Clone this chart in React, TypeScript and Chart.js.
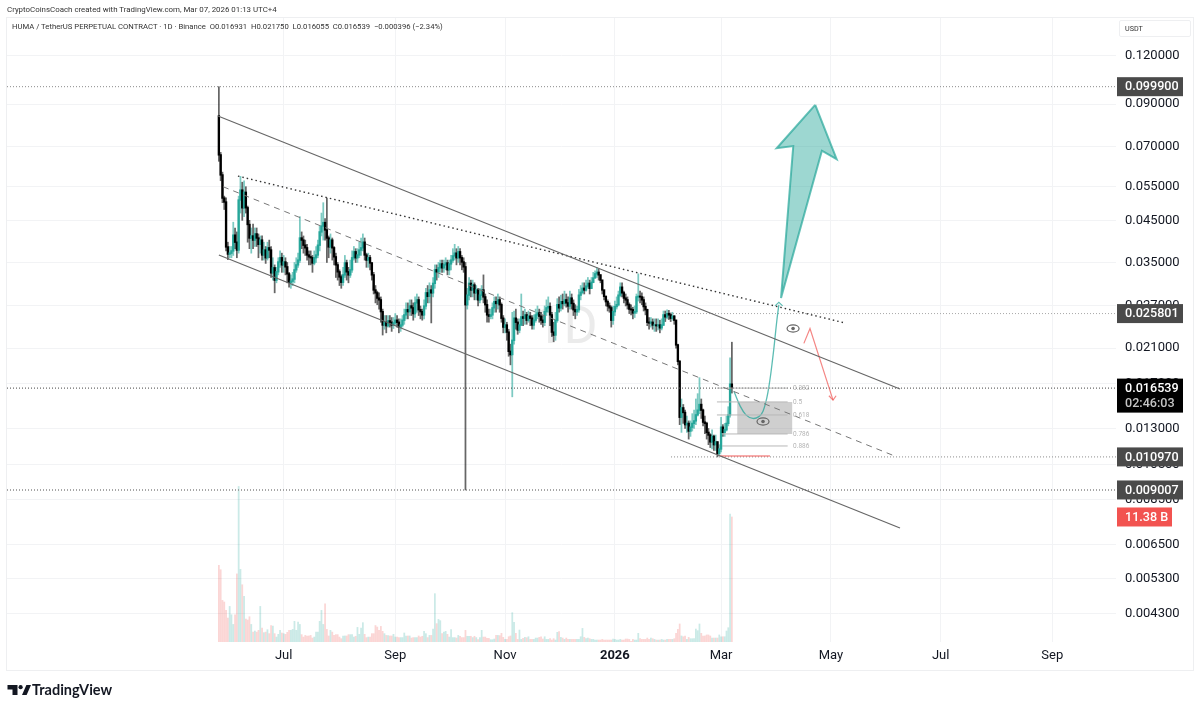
import { useEffect, useRef } from 'react';
import { Chart, registerables } from 'chart.js';

Chart.register(...registerables);

// prices are in thousandths of USDT, volumes in billions, x is the daily candle index (0 = May 26 2025)
const closes = [
  66.5,59,51.4,50.2,38.4,36.8,37,37.5,41.2,39.5,
  37.7,50.8,53.9,48.5,53.2,48.5,43.9,40.5,41,40,
  41.5,40.5,39,40,36.6,37.7,36,38.2,37.7,32.9,
  33.9,31.5,33.1,35.1,36,34.5,35.1,34.1,32.7,31.1,
  31.3,31.7,33.5,34.5,35.5,40.5,40,38.8,38.2,36.6,
  36.2,36,34.9,36,36.6,38.8,42,43.5,44.4,42.5,
  40.5,38.4,40,38.2,36.2,34.5,33.1,32.1,31.1,32.5,
  34.9,33.1,32.5,33.5,36,37.3,36,36.6,37.7,38.2,
  39.5,36.6,35.5,36,34.9,32.5,29.7,29.2,28.3,28,
  26.1,24.1,24.5,24,24.7,24.5,24.1,24.4,24.8,24.5,
  23.8,24.1,24.8,25.6,26.4,26.1,27,26.7,25.8,27.5,
  28,26.4,26.1,25.6,27,29.2,28.6,29.7,29.2,30.9,
  33.5,33.1,33.9,34.7,33.9,34.5,34.9,33.5,34.7,35.5,
  36.4,37,36,37.3,36,35.1,34.1,27.2,28.8,30.9,
  29.7,30.6,29.2,29.7,28,28.8,29.7,28.5,27.2,25.6,
  25.4,25.6,26.7,27.7,27.4,28,27.2,25.1,23.8,24.1,
  23.1,20.6,20.2,22,25.1,24.5,23.4,24.1,25.3,25.1,
  25.6,24.8,25.4,25.1,24.1,24.8,25.6,25.9,25.4,24.8,
  24.5,26.1,26.7,26.9,25.6,23.1,22.7,24.8,27.2,26.7,
  27.7,27.4,28,27.5,27,28.3,27.4,26.4,26.1,26.4,
  28.8,29.3,30,29.7,30.4,30.9,30,31.1,31.9,32.7,
  33,32.5,31.5,29.7,28.6,27.7,27,26.7,24.8,26.1,
  26.9,27.2,28.8,30.2,29.2,28.3,28,27.2,26.5,26.4,
  25.9,26.1,28.5,28.6,28.5,28,26.9,26.4,24.5,24.4,
  24.5,24.1,24.1,24,24.1,23.7,24.1,25.6,25.3,25.8,
  25.6,25.1,25.4,24.8,21.4,19.4,13.9,14.7,14.3,13.3,
  13.4,12.8,13.1,13.4,13.6,14.1,14.5,15,14.5,13.5,
  13.4,12.7,12.5,12,12.4,11.8,12,11.2,11.5,13.1,
  12.7,12.9,13.4,14.1,16.931,16.539,
];
const highs = [
  99.9,67.5,60,52,51.5,39.5,38.5,38.5,44.5,43,
  42,52,58.5,56.5,57,55,49,45,43,44,
  43,43,41.5,41,41,39.5,38.5,39.5,40,38.5,
  36,34.5,34,36,37.5,37,36.5,36,35,33,
  32.5,33,35,36,37,46,42,41,40,39,
  37.5,37.5,36.5,37.5,38.5,40,43.5,47,50,45.5,
  51.4,41,41.5,40.5,38.5,37,35,33.5,32.5,34,
  36.5,35.5,34,35.5,37.5,38.5,38,38,39.5,40.5,
  41.5,40.5,37,37,36.5,35,33,30.5,29.5,29.2,
  28.5,26.5,25.5,25.5,25.5,25.5,25.2,25.2,25.8,25.5,
  25,25,25.5,26.5,27.5,27.5,28,28,27.5,28.5,
  29,28.5,27,26.5,28,30,30.5,31,30.5,32,
  34.5,34.5,35,35.5,35.5,35.5,36,35.5,35.5,36.5,
  38,39,38,38.5,38,36.5,36,35,30,32,
  31.5,31.5,31,30.5,30,30,30.5,32.5,29,28,
  26.5,26.5,27.5,28.5,28.5,29,28.5,27.5,25.5,25,
  24.5,23.5,21.5,26,26.2,26.5,25,25,29,26.2,
  26.5,26,26.2,26,25.5,25.6,26.5,27,26.5,26,
  25.5,27,28,28.5,27.5,26,24.5,26,28.2,28.5,
  28.8,29,29.5,29,28.5,29.5,29,28,27.2,27,
  29.8,30.5,31,31,31.5,32,31.5,32,33,33.3,
  33.9,33.6,32.5,31,29.5,28.5,28,27.5,27,27,
  27.8,28.5,29.5,31,31,29.5,29,28.5,27.5,27.2,
  26.8,27,29,32.7,29.5,29.2,28.5,27.5,26.5,25.2,
  25.2,25,25,25,25,24.8,25,26.2,26.2,26.4,
  26.3,25.9,26,25.5,24.8,21.5,19.5,15.5,15,14.5,
  14,13.6,13.6,14.2,14.5,15.5,16,17.6,15.5,14.6,
  14,13.5,13,12.6,12.9,12.5,12.5,12,11.8,13.9,
  13.3,13.4,14,14.8,19.8,21.75,
];
const lows = [
  64,57,50,48,37.5,35.6,36,36,36.5,38,
  36,37,47,45,46,47,39.5,38,37,38,
  38.5,38.5,36,37,35.5,35.5,34.8,35.5,36,32,
  31.5,29.2,31,32.5,34,33,33,32.5,31,30.2,
  30,30.5,31,33,34,35,38,37,36.5,35.5,
  34.5,34.5,33,34.5,35,36,37.5,41,40,40,
  35,36,37,35.5,34.5,32,31.5,30.5,30,30.5,
  32,31.5,31,32,33,35.5,35,35,36,36.5,
  37.5,35.5,34,34,33.5,31.5,29,27.5,27.2,26.5,
  24.5,22.7,23.5,23,23.8,23.8,23.2,23.6,24,23.8,
  23,23.2,23.8,24.2,25,25,25.5,25.5,24.8,25.2,
  26,25.5,25,24.8,25,26.5,27.5,27.5,24.4,28.5,
  30,31.5,32,33,33,33,33.5,32.5,32.5,33.5,
  35,35.5,34.5,35,34.5,33.5,33,9.007,26.5,28,
  28.5,28.5,28,28,27,27.5,28,27.5,26,24.5,
  24.5,25,25,26,26,26.5,26,24.5,23,23,
  22,20,19,15.7,21.5,23.5,22.8,23,24,24,
  24.2,24.2,24.5,24,23.5,23.5,24.5,25,24.5,24.2,
  23.8,24,25.5,26,24,22.5,21.8,22,24.5,26,
  26.2,26.5,27,26.8,26,26.5,26.5,25.5,25,25.5,
  26,28,29,29,29.5,30,29,30,31,32,
  32,31.5,31,29,28,27,26.2,26,23.8,24.2,
  25.5,26.5,27,28.5,28.5,27.5,27,26.5,25.8,25.6,
  25,25.2,25.8,27.8,27.5,27.2,26.2,25.6,24,23.5,
  23.8,23.5,23.2,23.2,23.4,23,23.4,24,24.6,25,
  24.9,24.6,24.8,24.2,21,19,13.3,12.7,13.4,13,
  12.7,12.2,12.4,12.8,13,13.3,14,14.2,13.8,13.2,
  12.6,12.2,11.8,11.6,11.5,11.4,11.4,10.97,11.1,11.3,
  12.4,12.4,12.8,13.2,13.9,16.055,
];
const volumes = [
  6.98,6.58,3.79,3.64,2.88,2.18,3.24,2.48,1.6,2.48,
  6.2,14.16,6.61,5.21,4.15,2.09,2,2.3,1.6,0.9,
  1,0.9,1.06,3.24,1.27,0.85,0.9,1.12,0.76,1.5,
  1.45,0.76,0.45,0.7,1.06,0.82,0.76,0.7,0.88,1.06,
  1.06,1.15,1.88,1.06,1.82,1.6,0.67,0.45,0.6,0.55,
  0.55,0.6,0.36,0.45,0.9,0.9,1.88,2.88,1.6,3.48,
  1.15,0.55,1.06,0.9,0.6,0.67,0.67,0.45,0.3,0.55,
  0.55,0.55,0.67,0.67,0.67,0.45,0.52,1.33,0.7,1.27,
  1.76,0.7,0.4,0.45,0.45,0.76,0.76,1.5,1.36,1.06,
  1.42,0.97,0.76,0.6,0.58,0.55,0.55,0.7,0.45,0.45,
  0.4,0.4,0.4,0.82,0.55,0.55,0.55,0.36,0.4,0.4,
  0.4,0.55,0.45,0.52,0.97,0.76,0.4,0.6,0.6,1.18,
  4.4,1.67,2.06,1.94,0.76,0.9,0.97,0.7,0.45,1.12,
  0.4,0.4,0.36,0.6,0.52,0.4,0.4,1.06,0.52,0.52,
  0.52,0.4,0.52,0.4,0.21,0.4,1.06,0.45,0.45,0.33,
  0.33,0.21,0.21,0.27,0.6,0.6,0.58,0.79,0.42,0.24,
  0.24,0.48,0.55,2.67,1.79,0.79,0.24,1.09,0.24,0.33,
  0.42,0.39,0.48,0.24,0.24,0.24,0.36,0.36,0.42,0.48,
  0.27,0.48,0.24,0.24,0.3,0.18,0.3,0.18,0.88,0.94,
  0.42,0.36,0.24,0.36,0.24,0.24,0.24,0.24,0.24,0.24,
  0.24,0.48,1.24,0.42,0.3,0.36,0.3,0.24,0.24,0.18,
  0.18,0.18,0.18,0.24,0.18,0.18,0.18,0.18,0.18,0.27,
  0.24,0.18,0.18,0.24,0.18,0.18,0.27,0.27,0.24,0.06,
  0.24,0.18,0.18,0.79,0.3,0.24,0.24,0.24,0.36,0.24,
  0.36,0.3,0.24,0.18,0.18,0.18,0.24,0.18,0.18,0.24,
  0.24,0.24,0.24,0.3,0.79,1.15,1.64,0.55,0.48,0.55,
  0.24,0.42,0.3,0.3,0.3,1.18,1.03,1.64,0.79,0.55,
  0.55,0.64,0.64,0.55,0.36,0.36,0.36,0.36,0.64,0.48,
  0.48,0.48,1,1.3,11.65,11.38,
];
const firstOpen = 83.9;

const priceTicks = [120, 90, 70, 55, 45, 35, 27, 21, 17, 13, 10.5, 8.5, 6.5, 5.3, 4.3];
const timeTicks = [36, 98, 159, 220, 279, 340, 401, 463];
const timeLabels = ['Jul', 'Sep', 'Nov', '2026', 'Mar', 'May', 'Jul', 'Sep'];

// drawings: x in candle index, y in price
const upperChannelX = [-0.5, 378.4];
const upperChannelY = [83.9, 16.45];
const lowerChannelX = [0, 378.4];
const lowerChannelY = [36.6, 7.18];
const midChannelX = [2.3, 376.7];
const midChannelY = [55, 10.97];
const trendX = [10.6, 347.8];
const trendY = [58.6, 24.4];

const fibLevels = [16.539, 15.23, 14.09, 12.58, 11.71];
const fibNames = ['0.382', '0.5', '0.618', '0.786', '0.886'];
const fibStart = [276.7, 276.7, 276.7, 279.5, 279.5];
const fibEnd = 316;
const fibLabelX = 319;

const zoneX = [288, 318.5, 318.5, 288, 288];
const zoneY = [15.23, 15.23, 12.58, 12.58, 15.23];
const bigArrowX = [331.3, 343.2, 335, 312.3, 319.1, 309.9, 331.3];
const bigArrowY = [89.6, 64.8, 68.2, 28.3, 70.1, 69.2, 89.6];
const curveX = [286.2, 289.5, 292.8, 296.7, 300, 302.3, 305, 307.8, 310, 311.1];
const curveY = [16.2, 14.9, 14.1, 13.8, 13.95, 14.4, 16.1, 19.95, 24.8, 27.2];
const curveHeadX = [309, 311.1, 313.2];
const curveHeadY = [27, 27.6, 27];
const redArrowX = [325, 328.4, 341.2];
const redArrowY = [21.6, 23.6, 15.4];
const redHeadX = [338.9, 341.2, 342.9];
const redHeadY = [15.8, 15.4, 15.8];
const redBaseX = [278.4, 306.2];
const redBaseY = [11.03, 11.03];
const eyeX = [319, 302.3];
const eyeY = [23.6, 13.55];

const X_MIN = -117.7;
const X_MAX = 498.4;
const lines = [
  { from: X_MIN, price: 99.9, color: '#8a8a8a', width: 1 },
  { from: 252.3, price: 25.801, color: '#a8a8a8', width: 1 },
  { from: X_MIN, price: 16.539, color: '#444444', width: 1 },
  { from: 251.2, price: 10.97, color: '#8a8a8a', width: 1 },
  { from: X_MIN, price: 9.007, color: '#8a8a8a', width: 1.4 },
];

const tags = [
  { price: 99.9, text: '0.099900', bg: '#4a4a4a' },
  { price: 25.801, text: '0.025801', bg: '#4a4a4a' },
  { price: 10.97, text: '0.010970', bg: '#4a4a4a' },
  { price: 9.007, text: '0.009007', bg: '#4a4a4a' },
];

const UP = '#26a69a';
const DOWN = '#000000';
const FONT = 'Roboto, sans-serif';

const opens = closes.map((_, i) => (i === 0 ? firstOpen : closes[i - 1]));
const isUp = (i: number) => closes[i] >= opens[i];

const pts = (xs: number[], ys: number[]) => xs.map((x, k) => ({ x, y: ys[k] }));
const drawing = (xs: number[], ys: number[], extra: any) => ({
  type: 'line',
  data: pts(xs, ys),
  pointRadius: 0,
  fill: false,
  order: 1,
  ...extra,
});

const chartOverlay = {
  id: 'overlay',
  beforeDatasetsDraw(chart: any) {
    const { ctx } = chart;
    ctx.save();
    ctx.fillStyle = '#ebebeb';
    ctx.font = `52px ${FONT}`;
    ctx.textAlign = 'center';
    ctx.textBaseline = 'middle';
    ctx.fillText('1D', 566, 330);
    ctx.restore();
  },
  afterDraw(chart: any) {
    const { ctx, scales } = chart;
    const xs = scales.x;
    const ys = scales.y;
    ctx.save();

    // pane frame
    ctx.strokeStyle = '#eeeff1';
    ctx.lineWidth = 1;
    ctx.strokeRect(6.5, 17.5, 1187, 653);

    // fib level names
    ctx.font = `6.5px ${FONT}`;
    ctx.fillStyle = '#b4b4b4';
    ctx.textAlign = 'left';
    ctx.textBaseline = 'middle';
    fibNames.forEach((name, k) => {
      ctx.fillText(name, xs.getPixelForValue(fibLabelX), ys.getPixelForValue(fibLevels[k]));
    });

    // eye icons
    eyeX.forEach((x, k) => {
      const px = xs.getPixelForValue(x);
      const py = ys.getPixelForValue(eyeY[k]);
      ctx.beginPath();
      ctx.ellipse(px, py, 6, 3.6, 0, 0, Math.PI * 2);
      ctx.strokeStyle = '#666666';
      ctx.lineWidth = 1.2;
      ctx.stroke();
      ctx.beginPath();
      ctx.arc(px, py, 1.8, 0, Math.PI * 2);
      ctx.fillStyle = '#666666';
      ctx.fill();
    });

    // price tags over the axis
    ctx.textAlign = 'left';
    ctx.textBaseline = 'middle';
    ctx.font = `500 12.6px ${FONT}`;
    tags.forEach((t) => {
      const py = ys.getPixelForValue(t.price);
      ctx.fillStyle = t.bg;
      ctx.fillRect(1117, py - 9.5, 66, 19);
      ctx.fillStyle = '#ffffff';
      ctx.fillText(t.text, 1125, py + 0.5);
    });

    const lastY = ys.getPixelForValue(16.539);
    ctx.fillStyle = '#000000';
    ctx.fillRect(1117, lastY - 9.5, 66, 34);
    ctx.fillStyle = '#ffffff';
    ctx.fillText('0.016539', 1125, lastY + 0.5);
    ctx.fillStyle = '#c4c4c4';
    ctx.fillText('02:46:03', 1125, lastY + 15.5);

    const volY = scales.yVol.getPixelForValue(11.38);
    ctx.fillStyle = '#f25350';
    ctx.fillRect(1117, volY - 9.5, 55, 19);
    ctx.fillStyle = '#ffffff';
    ctx.fillText('11.38 B', 1125, volY + 0.5);

    ctx.restore();
  },
};

export default function App() {
  const chartRef = useRef<HTMLCanvasElement>(null);

  useEffect(() => {
    if (!chartRef.current) return;

    const datasets: any[] = [
      ...lines.map((l) =>
        drawing([l.from, X_MAX], [l.price, l.price], {
          borderColor: l.color,
          borderWidth: l.width,
          borderDash: [1, 2],
          order: 2,
        })
      ),
      drawing(upperChannelX, upperChannelY, { borderColor: '#666666', borderWidth: 1.2 }),
      drawing(lowerChannelX, lowerChannelY, { borderColor: '#666666', borderWidth: 1.2 }),
      drawing(midChannelX, midChannelY, { borderColor: '#777777', borderWidth: 1, borderDash: [6, 5] }),
      drawing(trendX, trendY, { borderColor: '#333333', borderWidth: 1.4, borderDash: [1.5, 3] }),
      ...fibLevels.map((lvl, k) =>
        drawing([fibStart[k], fibEnd], [lvl, lvl], { borderColor: '#b8b8b8', borderWidth: 1 })
      ),
      drawing(zoneX, zoneY, {
        borderColor: 'rgba(0,0,0,0)',
        borderWidth: 0,
        backgroundColor: 'rgba(130,130,130,0.38)',
        fill: 'shape',
        order: 3,
      }),
      drawing(bigArrowX, bigArrowY, {
        borderColor: 'rgba(38,166,154,0.7)',
        borderWidth: 2,
        backgroundColor: 'rgba(38,166,154,0.45)',
        fill: 'shape',
      }),
      drawing(curveX, curveY, { borderColor: 'rgba(38,166,154,0.75)', borderWidth: 1.3, tension: 0.4 }),
      drawing(curveHeadX, curveHeadY, { borderColor: 'rgba(38,166,154,0.75)', borderWidth: 1.1 }),
      drawing(redArrowX, redArrowY, { borderColor: 'rgba(239,83,80,0.7)', borderWidth: 1.2 }),
      drawing(redHeadX, redHeadY, { borderColor: 'rgba(239,83,80,0.7)', borderWidth: 1.2 }),
      drawing(redBaseX, redBaseY, { borderColor: 'rgba(239,83,80,0.65)', borderWidth: 1.5 }),
      {
        type: 'bar',
        label: 'Wick',
        data: closes.map((_, i) => ({ x: i, y: [lows[i], highs[i]] })),
        backgroundColor: closes.map((_, i) => (isUp(i) ? 'rgba(38,166,154,0.6)' : 'rgba(0,0,0,0.6)')),
        barThickness: 1.1,
        grouped: false,
        order: 5,
      },
      {
        type: 'bar',
        label: 'Body',
        data: closes.map((c, i) => ({ x: i, y: [Math.min(opens[i], c) * 0.998, Math.max(opens[i], c) * 1.002] })),
        backgroundColor: closes.map((_, i) => (isUp(i) ? UP : DOWN)),
        barThickness: 1.7,
        grouped: false,
        order: 4,
      },
      {
        type: 'bar',
        label: 'Volume',
        yAxisID: 'yVol',
        data: volumes.map((v, i) => ({ x: i, y: v })),
        backgroundColor: closes.map((_, i) => (isUp(i) ? 'rgba(38,166,154,0.24)' : 'rgba(239,83,80,0.24)')),
        barThickness: 1.1,
        grouped: false,
        order: 6,
      },
    ];

    const chart = new Chart(chartRef.current, {
      type: 'bar',
      data: { datasets },
      plugins: [chartOverlay],
      options: {
        responsive: false,
        animation: false,
        layout: { padding: { left: 7, top: 18, right: 7, bottom: 40 } },
        plugins: { legend: { display: false }, tooltip: { enabled: false } },
        scales: {
          x: {
            type: 'linear',
            offset: false,
            bounds: 'data',
            min: X_MIN,
            max: X_MAX,
            afterBuildTicks: (s: any) => {
              s.ticks = timeTicks.map((value) => ({ value }));
            },
            afterFit: (s: any) => {
              s.height = 28;
            },
            grid: { color: '#f2f3f5', drawTicks: false, offset: false },
            border: { display: false },
            ticks: {
              autoSkip: false,
              maxRotation: 0,
              padding: 6,
              color: '#131722',
              font: (c: any) => ({
                family: FONT,
                size: 13,
                weight: c.tick && c.tick.value === 220 ? 'bold' : 'normal',
              }),
              callback: (v: any) => timeLabels[timeTicks.indexOf(v)],
            },
          },
          y: {
            type: 'logarithmic',
            position: 'right',
            bounds: 'data',
            min: 3.636,
            max: 150.5,
            afterBuildTicks: (s: any) => {
              s.ticks = priceTicks.map((value) => ({ value }));
            },
            afterFit: (s: any) => {
              s.width = 77;
            },
            grid: { color: '#f2f3f5', drawTicks: false },
            border: { display: false },
            ticks: {
              autoSkip: false,
              padding: 9,
              color: '#131722',
              font: { family: FONT, size: 13 },
              callback: (v: any) => (Number(v) / 1000).toFixed(6),
            },
          },
          yVol: {
            type: 'linear',
            display: false,
            min: 0,
            max: 56.8,
          },
        },
      } as any,
    } as any);

    return () => chart.destroy();
  }, []);

  return (
    <div style={{ position: 'fixed', left: 0, top: 0, width: 1200, height: 710, background: '#fff', overflow: 'hidden', fontFamily: FONT, color: '#131722' }}>
      <canvas ref={chartRef} width={1200} height={710} style={{ position: 'absolute', left: 0, top: 0 }} />
      <div style={{ position: 'absolute', left: 7, top: 4, fontSize: 7.9, lineHeight: '12px', whiteSpace: 'nowrap', color: '#333' }}>
        CryptoCoinsCoach created with TradingView.com, Mar 07, 2026 01:13 UTC+4
      </div>
      <div style={{ position: 'absolute', left: 12, top: 21, fontSize: 7.7, lineHeight: '12px', whiteSpace: 'pre', color: '#333' }}>
        {'HUMA / TetherUS PERPETUAL CONTRACT · 1D · Binance  O0.016931  H0.021750  L0.016055  C0.016539  −0.000396 (−2.34%)'}
      </div>
      <div style={{ position: 'absolute', left: 1119, top: 20, width: 72, height: 17, boxSizing: 'border-box', border: '1px solid #eeeff1', borderRadius: 2, fontSize: 7.2, lineHeight: '15px', paddingLeft: 5, color: '#333' }}>
        USDT
      </div>
      <svg width={24} height={14} style={{ position: 'absolute', left: 7, top: 684 }} viewBox="0 0 24 14">
        <path d="M0.5 1 H10.5 V11 H5.5 V5.5 H0.5 Z" fill="#131722" />
        <circle cx="13.6" cy="3.2" r="2.1" fill="#131722" />
        <path d="M15 11 L19.4 1 H24 L19.6 11 Z" fill="#131722" />
      </svg>
      <div style={{ position: 'absolute', left: 32, top: 681, fontFamily: 'Lato, sans-serif', fontWeight: 700, fontSize: 14.5, lineHeight: '18px', color: '#131722' }}>
        TradingView
      </div>
    </div>
  );
}
